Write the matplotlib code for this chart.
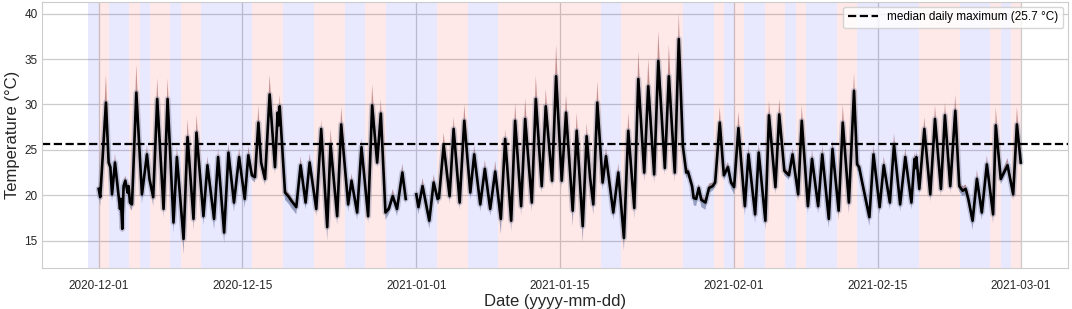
import numpy as np
import pandas as pd
import matplotlib
matplotlib.use("Agg")
import matplotlib.pyplot as plt
import matplotlib.dates as mdates

# time in days since 2020-12-01 00:00
days = [0.00, 0.15, 0.71, 0.97, 1.14, 1.30, 1.59, 2.08, 2.17, 2.30, 2.43, 2.60, 2.82, 2.92, 3.05, 3.25,
        3.67, 4.22, 4.71, 4.95, 5.32, 5.71, 6.33, 6.72, 7.30, 7.63, 8.28, 8.67, 9.25, 9.54, 10.22, 10.61,
        11.26, 11.65, 12.24, 12.66, 13.20, 13.70, 14.25, 14.60, 14.95, 15.25, 15.58, 15.85, 16.23, 16.68,
        17.20, 17.46, 17.55, 17.66, 18.18, 18.50, 18.80, 19.28, 19.70, 20.19, 20.58, 21.23, 21.71, 22.30,
        22.62, 23.27, 23.66, 24.34, 24.67, 25.22, 25.64, 26.29, 26.68, 27.17, 27.53, 27.98, 28.30, 28.69,
        29.11, 29.63, 29.96, 30.50,
        30.99, 31.20, 31.60, 32.26, 32.68, 33.07, 33.20, 33.66, 34.24, 34.63, 35.22, 35.67, 36.26, 36.64,
        37.23, 37.68, 38.20, 38.69, 39.24, 39.66, 40.25, 40.63, 41.22, 41.61, 42.26, 42.65, 43.23, 43.62,
        44.24, 44.63, 45.18, 45.60, 46.25, 46.64, 47.23, 47.61, 47.95, 48.26, 48.65, 49.17, 49.50, 50.21,
        50.70, 51.25, 51.67, 52.26, 52.65, 53.23, 53.62, 54.20, 54.60, 55.24, 55.63, 56.21, 56.60, 57.00,
        57.33, 57.50, 57.90, 58.05, 58.30, 58.55, 58.80, 59.20, 59.55, 59.90, 60.15, 60.60, 61.00, 61.40,
        61.70, 62.00, 62.42, 63.05, 63.40, 64.05, 64.40, 65.05, 65.40, 66.03, 66.40, 66.90, 67.35, 67.70,
        68.25, 68.60, 69.20, 69.60, 70.20, 70.60, 71.24, 71.60, 72.20, 72.60, 73.20, 73.70, 74.00, 74.20,
        74.50, 75.20, 75.60, 76.20, 76.60, 77.20, 77.60, 78.20, 78.70, 79.30, 79.60, 79.70, 79.78, 80.07,
        80.56, 81.14, 81.60, 82.18, 82.57, 83.09, 83.58, 83.97, 84.30, 84.60, 84.85, 85.27, 85.69, 86.17,
        86.66, 87.27, 87.53, 88.02, 88.68, 89.23, 89.59, 89.97]

temp = [20.7, 19.8, 30.2, 23.6, 23.1, 20.1, 23.6, 18.5, 19.6, 16.3, 21.0, 21.6, 20.3, 21.0, 19.2, 19.0,
        31.3, 20.1, 24.5, 21.8, 19.8, 30.6, 18.5, 30.6, 17.0, 24.2, 15.2, 26.4, 17.4, 26.9, 17.7, 23.3,
        17.4, 24.2, 15.9, 24.7, 19.2, 24.2, 19.6, 24.4, 22.2, 22.0, 28.0, 23.6, 21.8, 31.1,
        23.1, 29.1, 27.7, 29.8, 20.3, 19.9, 19.4, 18.7, 23.3, 19.2, 23.6, 18.5, 27.3, 16.5,
        25.6, 17.7, 27.8, 19.0, 21.6, 18.1, 25.3, 17.7, 29.9, 23.6, 29.0, 18.1, 18.5, 19.9,
        18.5, 22.5, 19.6, np.nan,
        20.1, 18.7, 21.0, 17.2, 21.4, 19.6, 19.7, 25.5, 19.9, 27.3, 19.2, 28.2, 20.3, 24.5,
        19.0, 22.9, 18.5, 22.6, 17.4, 26.2, 17.2, 28.2, 18.8, 28.4, 19.2, 30.6, 21.0, 29.8,
        21.6, 33.1, 21.6, 29.1, 18.3, 27.1, 16.6, 26.5, 21.9, 19.0, 30.2, 21.4, 24.3, 18.1,
        22.5, 15.3, 27.1, 18.6, 32.8, 22.5, 32.0, 22.3, 34.8, 23.0, 33.1, 22.5, 37.2, 25.4,
        22.5, 22.6, 21.0, 19.7, 19.6, 20.8, 19.5, 19.2, 20.8, 21.0, 21.4, 28.0, 22.2, 23.1,
        21.4, 20.9, 27.4, 18.8, 24.5, 17.9, 24.7, 17.2, 28.8, 20.9, 28.9, 22.7, 22.2, 24.5,
        20.1, 28.2, 18.8, 24.0, 18.8, 24.5, 17.4, 25.1, 18.3, 28.0, 19.2, 31.5, 23.4, 23.1,
        21.4, 17.6, 24.5, 18.7, 23.3, 19.2, 25.6, 19.0, 24.2, 19.2, 24.0, 23.0, 24.2, 20.7,
        27.3, 20.1, 28.4, 20.7, 28.8, 21.0, 29.3, 21.0, 20.5, 20.7, 19.6, 17.2, 21.8, 18.1,
        23.4, 17.9, 27.7, 21.8, 23.3, 20.1, 27.8, 23.6]

# band above / below the mean line
band_up = [0.5, 0.4, 3.1, 0.8, 0.6, 0.4, 1.0, 0.4, 0.4, 0.3, 0.5, 0.6, 0.5, 0.5, 0.4, 0.4,
           3.1, 0.4, 1.0, 0.5, 0.4, 2.3, 0.4, 2.3, 0.4, 1.2, 0.3, 2.0, 0.3, 2.0, 0.3, 1.0,
           0.3, 1.0, 0.3, 1.0, 0.3, 1.0, 0.3, 1.0, 0.4, 0.4, 1.9, 0.5, 0.4, 2.2,
           0.4, 1.0, 0.5, 1.3, 0.4, 0.4, 0.4, 0.3, 1.0, 0.3, 1.0, 0.3, 1.0, 0.3,
           1.7, 0.3, 1.9, 0.3, 0.8, 0.3, 1.0, 0.3, 2.3, 0.5, 1.6, 0.3, 0.3, 0.8,
           0.3, 1.0, 0.4, np.nan,
           0.4, 0.3, 0.9, 0.3, 0.9, 0.3, 0.3, 1.4, 0.3, 1.3, 0.3, 1.8, 0.3, 1.0,
           0.3, 1.0, 0.3, 1.2, 0.3, 1.1, 0.3, 2.0, 0.3, 2.3, 0.3, 2.6, 0.3, 1.9,
           0.3, 3.5, 0.3, 2.0, 0.3, 2.0, 0.3, 1.5, 0.4, 0.3, 2.4, 0.3, 1.0, 0.3,
           1.0, 0.3, 2.0, 0.3, 3.1, 0.3, 3.0, 0.3, 3.3, 0.3, 3.5, 0.3, 2.9, 0.5,
           0.4, 0.4, 0.4, 0.4, 0.4, 0.5, 0.4, 0.4, 0.5, 0.4, 0.4, 1.7, 0.4, 0.6,
           0.4, 0.4, 1.8, 0.3, 1.0, 0.3, 1.0, 0.3, 1.6, 0.3, 1.7, 0.4, 0.4, 0.7,
           0.3, 1.7, 0.3, 1.0, 0.3, 1.0, 0.3, 1.0, 0.3, 2.0, 0.3, 2.0, 0.5, 0.4,
           0.4, 0.3, 1.0, 0.3, 1.0, 0.3, 1.2, 0.3, 1.0, 0.3, 0.8, 0.5, 0.8, 0.3,
           1.3, 0.3, 1.5, 0.3, 1.4, 0.3, 1.8, 0.5, 0.5, 0.5, 0.4, 0.3, 1.0, 0.3,
           1.0, 0.3, 2.0, 0.4, 0.8, 0.3, 1.9, 0.5]

band_dn = [0.5, 1.0, 0.5, 0.5, 0.5, 0.8, 0.4, 1.0, 0.6, 0.5, 0.5, 0.4, 0.5, 0.5, 0.6, 0.7,
           0.5, 1.0, 0.4, 0.4, 1.0, 0.5, 1.0, 0.5, 1.2, 0.4, 1.7, 0.4, 1.2, 0.4, 1.0, 0.4,
           1.2, 0.4, 1.2, 0.4, 1.0, 0.4, 1.0, 0.4, 0.5, 0.6, 0.4, 0.5, 0.7, 0.5,
           0.8, 0.4, 0.5, 0.4, 0.8, 0.8, 0.8, 0.8, 0.4, 0.8, 0.4, 0.8, 0.4, 1.5,
           0.4, 1.0, 0.4, 0.8, 0.4, 0.8, 0.4, 0.8, 0.4, 0.6, 0.4, 0.8, 0.6, 0.4,
           0.8, 0.4, 0.6, np.nan,
           0.6, 0.8, 0.4, 0.9, 0.4, 0.6, 0.6, 0.4, 0.8, 0.4, 0.8, 0.4, 0.8, 0.4,
           0.8, 0.4, 0.8, 0.4, 1.7, 0.4, 1.2, 0.4, 1.0, 0.4, 1.0, 0.4, 0.8, 0.4,
           0.8, 0.4, 0.8, 0.4, 1.7, 0.4, 1.8, 0.4, 0.5, 1.2, 0.4, 0.8, 0.4, 0.8,
           0.4, 1.4, 0.4, 1.2, 0.4, 1.0, 0.4, 1.0, 0.4, 0.8, 0.4, 1.0, 0.4, 0.5,
           0.6, 0.5, 0.6, 0.8, 0.8, 0.5, 0.8, 0.8, 0.5, 0.5, 0.5, 0.4, 0.6, 0.4,
           0.6, 0.8, 0.4, 1.0, 0.4, 1.0, 0.4, 1.0, 0.4, 0.8, 0.4, 0.5, 0.5, 0.4,
           0.8, 0.4, 0.8, 0.4, 0.8, 0.4, 1.0, 0.4, 1.0, 0.4, 1.2, 0.4, 0.6, 0.6,
           0.6, 1.0, 0.4, 0.8, 0.4, 0.8, 0.4, 0.8, 0.4, 0.8, 0.4, 0.4, 0.4, 0.6,
           0.4, 0.8, 0.4, 0.8, 0.4, 0.8, 0.4, 0.6, 0.6, 0.6, 0.6, 1.0, 0.4, 0.8,
           0.4, 1.0, 0.4, 0.6, 0.4, 0.6, 0.4, 0.5]

# day classification from 2020-11-30 to 2021-02-28 (b = cool, r = warm)
span_days = "brbbrbrrbrrbbbbbrrrbbbrrrbbrrbbbbbrrrbbbrrrrrrrrrrbbrrrrrrbbbrbrbbrrbrbbbrrbbbbbbrrrrbbbrbr"
median_max = 25.7

start = pd.Timestamp("2020-12-01")
t = start + pd.to_timedelta(np.array(days), unit="D")
y = np.array(temp)
hi = y + np.array(band_up)
lo = y - np.array(band_dn)

plt.rcParams["font.family"] = ["Liberation Sans", "DejaVu Sans"]

fig = plt.figure(figsize=(10.72, 3.09), dpi=100)
ax = fig.add_axes([0.039, 0.133, 0.957, 0.861])

span0 = pd.Timestamp("2020-11-30")
for i, c in enumerate(span_days):
    ax.axvspan(span0 + pd.Timedelta(days=i), span0 + pd.Timedelta(days=i + 1),
               color="red" if c == "r" else "blue", alpha=0.09, lw=0)

ax.fill_between(t, y, hi, color="#8b3a3a", alpha=0.5, lw=0)
ax.fill_between(t, lo, y, color="#4a5a88", alpha=0.5, lw=0)
# soft halo round the mean line
ax.plot(t, y, color="#8088a0", lw=4.2, alpha=0.4, solid_capstyle="round")
ax.plot(t, y, color="black", lw=1.9)
ax.axhline(median_max, color="black", ls="--", lw=1.6,
           label="median daily maximum (25.7 °C)")

ax.xaxis.set_major_locator(mdates.DayLocator(bymonthday=[1, 15]))
ax.xaxis.set_major_formatter(mdates.DateFormatter("%Y-%m-%d"))
ax.set_ylim(12.0, 41.3)
ax.set_yticks([15, 20, 25, 30, 35, 40])

ax.grid(True, color="#cccccc", lw=0.9)
ax.set_axisbelow(True)
for s in ax.spines.values():
    s.set_color("#cccccc")
ax.tick_params(length=0, labelsize=8.5, colors="#262626")
ax.tick_params(axis="x", pad=9)
ax.tick_params(axis="y", pad=3)
ax.set_xlabel("Date (yyyy-mm-dd)", fontsize=12, color="#262626", labelpad=1)
ax.set_ylabel("Temperature (°C)", fontsize=12, color="#262626", labelpad=3)

ax.legend(loc="upper right", fontsize=8.5, frameon=True, edgecolor="#cccccc",
          handlelength=2.5, borderaxespad=0.4)

fig.savefig("out.png", dpi=100)
